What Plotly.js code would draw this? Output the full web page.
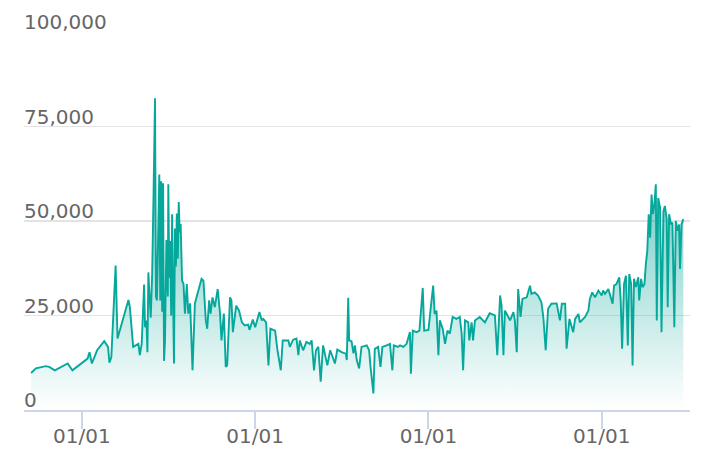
<!DOCTYPE html>
<html>
<head>
<meta charset="utf-8">
<script src="https://cdn.plot.ly/plotly-3.0.1.min.js"></script>
<style>html,body{margin:0;padding:0;background:#fff;}#chart{width:712px;height:474px;}</style>
</head>
<body>
<div id="chart"></div>
<script>
const dates = [
"2016-09-16","2016-09-26","2016-10-17","2016-10-24","2016-11-05","2016-12-02","2016-12-12",
"2017-01-13","2017-01-17","2017-01-22","2017-02-02","2017-02-17","2017-02-25","2017-02-28","2017-03-04","2017-03-13","2017-03-17",
"2017-04-09","2017-04-12","2017-04-19","2017-04-30","2017-05-03","2017-05-07","2017-05-12","2017-05-14","2017-05-17","2017-05-19",
"2017-05-21","2017-05-26","2017-05-29","2017-06-01","2017-06-04","2017-06-06","2017-06-08","2017-06-13","2017-06-15","2017-06-17",
"2017-06-19","2017-06-21","2017-06-23","2017-06-25","2017-06-28","2017-07-01","2017-07-02","2017-07-04","2017-07-06","2017-07-08",
"2017-07-10","2017-07-12","2017-07-14","2017-07-16","2017-07-18","2017-07-20","2017-07-22","2017-07-24","2017-07-26","2017-07-28",
"2017-07-31","2017-08-03","2017-08-06","2017-08-10","2017-08-13","2017-08-17","2017-08-22","2017-08-27","2017-09-03","2017-09-10",
"2017-09-14","2017-09-19","2017-09-22","2017-09-26","2017-09-29","2017-10-03","2017-10-08","2017-10-14","2017-10-19","2017-10-22",
"2017-10-27","2017-10-31","2017-11-03","2017-11-09","2017-11-12","2017-11-15","2017-11-22","2017-11-28","2017-12-04","2017-12-10",
"2017-12-17","2017-12-20","2017-12-27",
"2018-01-01","2018-01-10","2018-01-15","2018-01-18","2018-01-24","2018-01-29","2018-02-02","2018-02-12","2018-02-17","2018-02-24",
"2018-02-28","2018-03-12","2018-03-15","2018-03-22","2018-03-29","2018-04-02","2018-04-05","2018-04-12","2018-04-19","2018-04-26",
"2018-04-30","2018-05-05","2018-05-09","2018-05-14","2018-05-19","2018-05-24","2018-06-02","2018-06-08","2018-06-13","2018-06-18",
"2018-06-23","2018-07-02","2018-07-11","2018-07-13","2018-07-16","2018-07-18","2018-07-23","2018-07-27","2018-07-30","2018-08-03",
"2018-08-08","2018-08-13","2018-08-24","2018-08-29","2018-09-01","2018-09-07","2018-09-10","2018-09-17","2018-09-22","2018-09-26",
"2018-10-05","2018-10-12","2018-10-17","2018-10-20","2018-10-29","2018-11-02","2018-11-09","2018-11-16","2018-11-23","2018-11-25",
"2018-11-29","2018-12-07","2018-12-13","2018-12-20","2018-12-23",
"2019-01-01","2019-01-06","2019-01-11","2019-01-14","2019-01-18","2019-01-22","2019-01-25","2019-01-31","2019-02-05","2019-02-10",
"2019-02-15","2019-02-21","2019-03-01","2019-03-08","2019-03-12","2019-03-15","2019-03-19","2019-03-26","2019-03-28","2019-04-02",
"2019-04-05","2019-04-09","2019-04-19","2019-04-30","2019-05-10","2019-05-21","2019-05-26","2019-06-01","2019-06-04","2019-06-08",
"2019-06-11","2019-06-15","2019-06-22","2019-06-29","2019-07-02","2019-07-06","2019-07-09","2019-07-14","2019-07-18","2019-07-27",
"2019-08-03","2019-08-06","2019-08-13","2019-08-20","2019-08-27","2019-08-31","2019-09-05","2019-09-10","2019-09-17","2019-09-28",
"2019-10-05","2019-10-09","2019-10-16","2019-10-19","2019-10-25","2019-11-02","2019-11-06","2019-11-13","2019-11-16","2019-11-27",
"2019-12-04","2019-12-07","2019-12-12","2019-12-18","2019-12-25",
"2020-01-01","2020-01-04","2020-01-08","2020-01-15","2020-01-18","2020-01-24","2020-01-27","2020-02-01","2020-02-07","2020-02-10",
"2020-02-13","2020-02-17","2020-02-21","2020-02-25","2020-02-28","2020-03-03","2020-03-06","2020-03-09","2020-03-13","2020-03-18",
"2020-03-20","2020-03-24","2020-03-27","2020-03-31","2020-04-03","2020-04-06","2020-04-09","2020-04-12","2020-04-15","2020-04-18",
"2020-04-21","2020-04-24","2020-04-26","2020-04-29","2020-05-03","2020-05-06","2020-05-10","2020-05-13","2020-05-17","2020-05-19",
"2020-05-22","2020-05-26","2020-05-29","2020-06-02","2020-06-05","2020-06-09","2020-06-12","2020-06-14","2020-06-17","2020-06-21"
];
const values = [
9800,11000,11600,11400,10500,12300,10500,
13600,15300,12300,15800,18200,16700,12500,14000,38200,18900,
29100,27200,16700,17500,14500,17500,33200,21900,23700,15300,
36400,24400,36000,57900,82500,30000,29000,62300,29000,60500,
26000,60000,13000,18400,45000,30000,59700,35000,44700,25000,
51800,30000,12300,48000,38000,52000,40000,55000,47000,49200,
34200,33400,25500,33300,25500,28200,10500,28200,31600,34700,
34200,23700,21500,29000,25500,29800,27200,32000,25500,18400,
25500,11400,11800,29800,29000,20600,27600,26300,23200,22400,
22600,21200,23900,
21900,25900,23700,24100,23200,11800,21500,21000,15800,10500,
18400,18400,16700,18600,18900,14500,18400,15800,18000,17500,
18400,10500,15800,16700,7500,17100,11800,15800,14000,12300,
16000,15300,14900,13200,29700,18400,18200,15000,17100,13200,
11000,16700,17100,15800,11400,4400,16200,16700,11400,16700,
17100,17500,10500,17100,16700,17100,16700,17500,20600,9600,
21000,20600,21000,32300,21000,
21200,27200,32900,25400,26300,14500,23700,21500,17500,21000,
20200,24600,24100,24600,20200,10500,23700,23200,18400,23200,
18400,23700,24600,23200,25600,25000,14500,30300,27600,14500,
26300,25400,23700,25900,23700,15300,32000,24600,29400,29800,
32900,30700,31100,30300,28500,24600,15800,26800,28100,28200,
23700,28100,28100,16200,24100,20600,24100,25400,23200,24600,
26300,29400,31100,29800,31600,
30300,31600,30700,32000,30700,28100,32900,33300,35100,29000,
16200,33300,35500,17100,36000,33300,11800,34700,32500,35100,
29000,34700,32500,33300,38600,42100,51800,45600,57000,51800,
54400,59700,23700,56100,53500,20600,52600,54000,50500,27200,
51800,49100,49600,21900,50000,47400,49100,37300,49100,50500
];
const yTickVals = [0, 25000, 50000, 75000, 100000];
const yTickText = ["0", "25,000", "50,000", "75,000", "100,000"];

const trace = {
  type: 'scatter', mode: 'lines', x: dates, y: values,
  line: {color: '#06a89b', width: 1.9},
  fill: 'tozeroy',
  fillgradient: {type: 'vertical', start: 0, stop: 85000,
    colorscale: [[0, 'rgba(10,167,155,0.0)'], [1, 'rgba(10,167,155,0.8)']]},
  hoverinfo: 'skip'
};
const font = {family: 'DejaVu Sans, Verdana, sans-serif', size: 20, color: '#666666'};
const layout = {
  width: 712, height: 474,
  margin: {l: 24, r: 22, t: 32, b: 64, pad: 0},
  paper_bgcolor: '#ffffff', plot_bgcolor: '#ffffff',
  showlegend: false,
  xaxis: {
    type: 'date', range: ['2016-09-01', '2020-07-05'],
    tick0: '2017-01-01', dtick: 'M12', tickformat: '%m/%d',
    ticks: 'outside', ticklen: 17, tickwidth: 2, tickcolor: '#ccd6eb',
    ticklabelstandoff: -10,
    showline: true, linecolor: '#ccd6eb', linewidth: 2,
    showgrid: false, zeroline: false, tickfont: font
  },
  yaxis: {
    range: [0, 100000], tickmode: 'array', tickvals: yTickVals, ticktext: yTickText,
    ticklabelposition: 'inside top', ticklabeloverflow: 'allow', ticks: '',
    ticklabelstandoff: -3, ticklabelshift: 4,
    showgrid: true, gridcolor: '#e3e3e3', gridwidth: 1.6,
    zeroline: false, showline: false, tickfont: font
  }
};
Plotly.newPlot('chart', [trace], layout, {displayModeBar: false, staticPlot: true});
</script>
</body>
</html>
